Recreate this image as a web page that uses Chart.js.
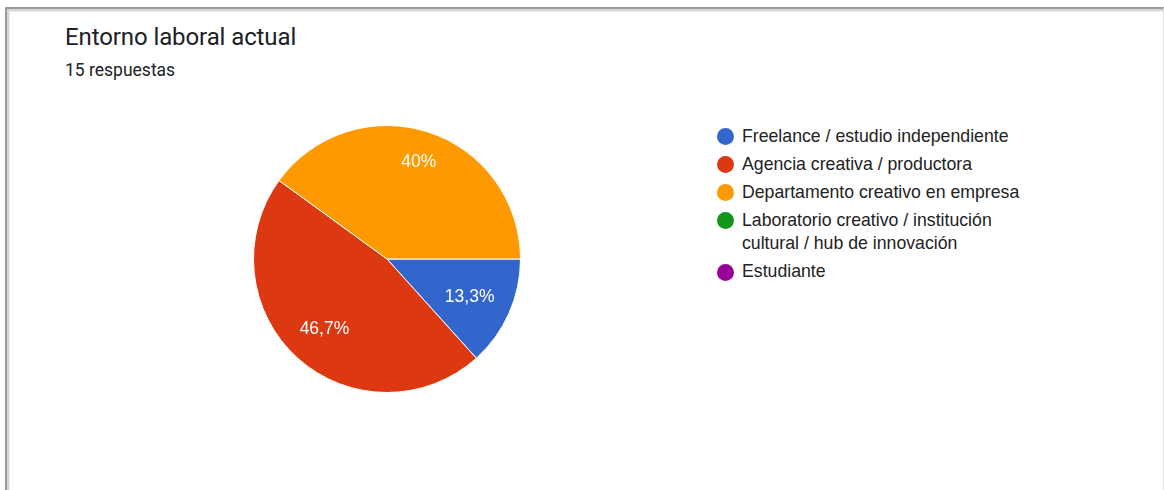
<!DOCTYPE html>
<html lang="es">
<head>
<meta charset="utf-8">
<title>Entorno laboral actual</title>
<script src="https://cdn.jsdelivr.net/npm/chart.js@4/dist/chart.umd.min.js"></script>
<style>
  html, body { margin: 0; padding: 0; background: #fff; }
  body { width: 1164px; height: 490px; position: relative; overflow: hidden; }
  .card {
    position: absolute; left: 5px; top: 7px; right: 0; bottom: -4px;
    border-top: 2px solid #9a9a9a; border-left: 2px solid #9a9a9a;
    border-right: 1px solid #e2e2e2;
    box-shadow: inset 2px 2px 0 #d6d6d6, inset 3px 3px 0 #eeeeee;
    background: #fff;
  }
  .title {
    position: absolute; left: 65px; top: 23px;
    font-family: Roboto, "Noto Sans", Arial, sans-serif;
    font-size: 24px; letter-spacing: -0.1px; color: #202124; white-space: nowrap;
  }
  .subtitle {
    position: absolute; left: 65px; top: 59.5px;
    font-family: Roboto, "Noto Sans", Arial, sans-serif;
    font-size: 17.5px; color: #202124; white-space: nowrap;
  }
  .pie { position: absolute; left: 253px; top: 125px; width: 268px; height: 268px; }
  .legend {
    position: absolute; left: 716px; top: 124.5px; width: 318px;
    font-family: "Liberation Sans", Arial, sans-serif; font-size: 17.7px; color: #222;
    list-style: none; margin: 0; padding: 0;
  }
  .legend li { position: relative; padding-left: 26px; line-height: 23.5px; margin-bottom: 4.5px; }
  .legend .dot {
    position: absolute; left: 1px; top: 3.5px; width: 17px; height: 17px; border-radius: 50%;
  }
</style>
</head>
<body>
<div class="card"></div>
<div class="title">Entorno laboral actual</div>
<div class="subtitle">15 respuestas</div>
<div class="pie"><canvas id="pie"></canvas></div>
<ul class="legend" id="legend"></ul>

<script>
// Answer categories and response counts
const categories = [
  "Freelance / estudio independiente",
  "Agencia creativa / productora",
  "Departamento creativo en empresa",
  "Laboratorio creativo / institución cultural / hub de innovación",
  "Estudiante"
];
const responses = [2, 7, 6, 0, 0];
const sliceColors = ["#3366cc", "#dc3912", "#ff9900", "#109618", "#990099"];

// Percent text with a decimal comma, e.g. 13,3% / 40%
function pctText(v, total) {
  const p = Math.round(v / total * 1000) / 10;
  return String(p).replace(".", ",") + "%";
}

// Writes each slice's share inside it, along the slice bisector,
// pushed out until the label box touches a fixed inner circle.
const sliceLabels = {
  id: "sliceLabels",
  afterDatasetsDraw(chart) {
    const ctx = chart.ctx;
    const meta = chart.getDatasetMeta(0);
    const data = chart.data.datasets[0].data;
    const total = data.reduce((a, b) => a + b, 0);
    ctx.save();
    ctx.font = "17.5px 'Liberation Sans', Arial, sans-serif";
    ctx.fillStyle = "#ffffff";
    ctx.textAlign = "center";
    ctx.textBaseline = "middle";
    meta.data.forEach((arc, i) => {
      if (!data[i]) return;
      const { x, y, startAngle, endAngle, outerRadius } = arc.getProps(["x", "y", "startAngle", "endAngle", "outerRadius"], true);
      const mid = (startAngle + endAngle) / 2;
      const text = pctText(data[i], total);
      const hw = ctx.measureText(text).width / 2, hh = 8;
      const limit = outerRadius * 0.875;
      let r = 0;
      for (let step = 0; step < 400; step++) {
        const cx = Math.cos(mid) * (r + 0.5), cy = Math.sin(mid) * (r + 0.5);
        const far = Math.hypot(Math.abs(cx) + hw, Math.abs(cy) + hh);
        if (far > limit) break;
        r += 0.5;
      }
      ctx.fillText(text, x + Math.cos(mid) * r, y + Math.sin(mid) * r + 1);
    });
    ctx.restore();
  }
};

const chart = new Chart(document.getElementById("pie"), {
  type: "pie",
  data: {
    labels: categories,
    datasets: [{
      data: responses,
      backgroundColor: sliceColors,
      borderColor: "#ffffff",
      borderWidth: 1,
      hoverOffset: 0
    }]
  },
  options: {
    responsive: true,
    maintainAspectRatio: false,
    animation: false,
    events: [],
    rotation: 90,
    layout: { padding: 0 },
    plugins: {
      legend: { display: false },
      tooltip: { enabled: false }
    }
  },
  plugins: [sliceLabels]
});

// Legend built from the chart's own labels and colours
const legendEl = document.getElementById("legend");
chart.data.labels.forEach((label, i) => {
  const li = document.createElement("li");
  const dot = document.createElement("span");
  dot.className = "dot";
  dot.style.background = chart.data.datasets[0].backgroundColor[i];
  li.appendChild(dot);
  li.appendChild(document.createTextNode(label));
  legendEl.appendChild(li);
});
</script>
</body>
</html>
